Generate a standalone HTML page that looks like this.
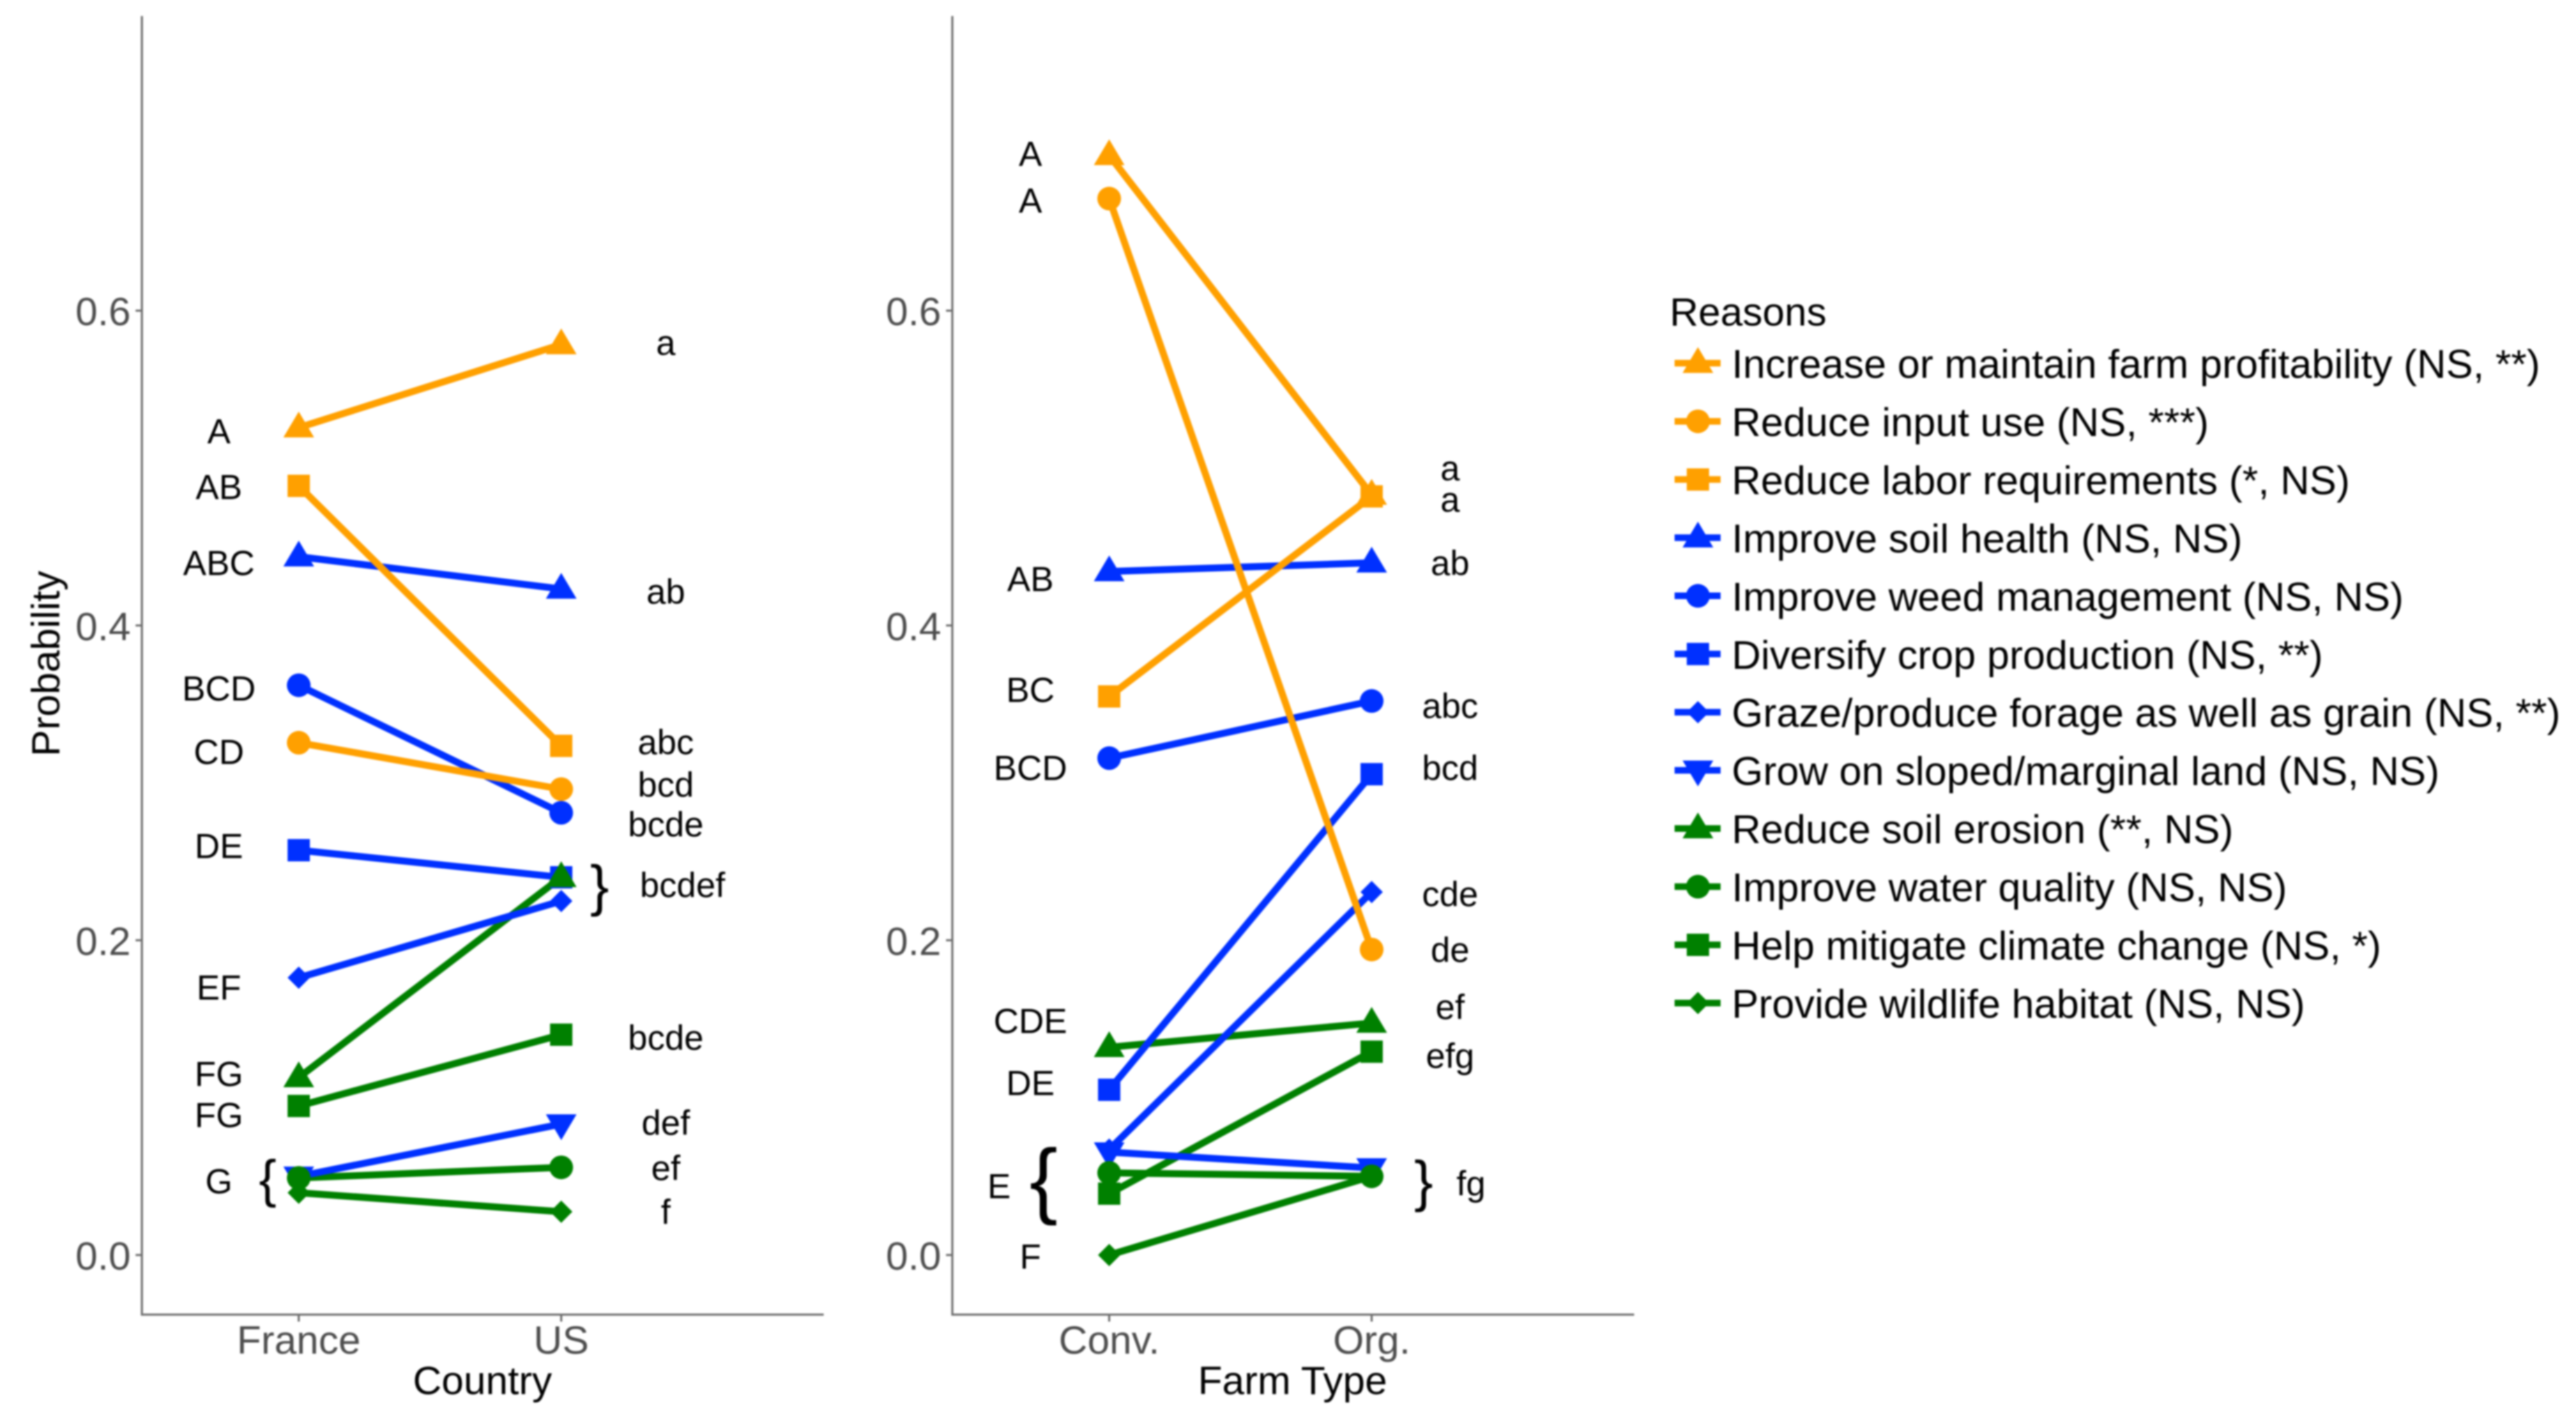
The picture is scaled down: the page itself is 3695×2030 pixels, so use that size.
<!DOCTYPE html>
<html lang="en">
<head>
<meta charset="utf-8">
<title>Probability of reasons by country and farm type</title>
<style>
html,body{margin:0;padding:0;background:#fff;width:3695px;height:2030px;overflow:hidden}
svg{display:block;filter:blur(1.2px)}
text{font-family:"Liberation Sans",Arial,sans-serif}
.sig{font-size:50px;fill:#000;text-anchor:middle;transform:translateY(2px)}
.brace{fill:#000;text-anchor:middle}
</style>
</head>
<body>
<svg id="chart" xmlns="http://www.w3.org/2000/svg" width="3695" height="2030" viewBox="0 0 3695 2030">
<rect x="0" y="0" width="3695" height="2030" fill="#fff"/>
<g id="panel-country"></g>
<g id="panel-farm"></g>
<g id="legend"></g>

<g>
<text class="sig" x="314" y="634">A</text>
<text class="sig" x="314" y="714">AB</text>
<text class="sig" x="314" y="823">ABC</text>
<text class="sig" x="314" y="1003">BCD</text>
<text class="sig" x="314" y="1094">CD</text>
<text class="sig" x="314" y="1229">DE</text>
<text class="sig" x="314" y="1432">EF</text>
<text class="sig" x="314" y="1556">FG</text>
<text class="sig" x="314" y="1615">FG</text>
<text class="sig" x="314" y="1710">G</text>
<text class="brace" x="384" y="1717" font-size="75">{</text>
<text class="sig" x="955" y="507">a</text>
<text class="sig" x="955" y="864">ab</text>
<text class="sig" x="955" y="1080">abc</text>
<text class="sig" x="955" y="1141">bcd</text>
<text class="sig" x="955" y="1198">bcde</text>
<text class="brace" x="860" y="1298" font-size="81">}</text>
<text class="sig" x="979" y="1285">bcdef</text>
<text class="sig" x="955" y="1504">bcde</text>
<text class="sig" x="955" y="1626">def</text>
<text class="sig" x="955" y="1691">ef</text>
<text class="sig" x="955" y="1754">f</text>
</g>

<g>
<text class="sig" x="1478" y="236">A</text>
<text class="sig" x="1478" y="303">A</text>
<text class="sig" x="1478" y="846">AB</text>
<text class="sig" x="1478" y="1005">BC</text>
<text class="sig" x="1478" y="1117">BCD</text>
<text class="sig" x="1478" y="1480">CDE</text>
<text class="sig" x="1478" y="1569">DE</text>
<text class="sig" x="1433" y="1717">E</text>
<text class="brace" x="1497" y="1733" font-size="121">{</text>
<text class="sig" x="1478" y="1818">F</text>
<text class="sig" x="2080" y="687">a</text>
<text class="sig" x="2080" y="732">a</text>
<text class="sig" x="2080" y="823">ab</text>
<text class="sig" x="2080" y="1028">abc</text>
<text class="sig" x="2080" y="1117">bcd</text>
<text class="sig" x="2080" y="1298">cde</text>
<text class="sig" x="2080" y="1378">de</text>
<text class="sig" x="2080" y="1460">ef</text>
<text class="sig" x="2080" y="1530">efg</text>
<text class="brace" x="2042" y="1722" font-size="81">}</text>
<text class="sig" x="2110" y="1713">fg</text>
</g>
</svg>

<script>
// ---- data ----
const reasons = [
  "Increase or maintain farm profitability (NS, **)",
  "Reduce input use (NS, ***)",
  "Reduce labor requirements (*, NS)",
  "Improve soil health (NS, NS)",
  "Improve weed management (NS, NS)",
  "Diversify crop production (NS, **)",
  "Graze/produce forage as well as grain (NS, **)",
  "Grow on sloped/marginal land (NS, NS)",
  "Reduce soil erosion (**, NS)",
  "Improve water quality (NS, NS)",
  "Help mitigate climate change (NS, *)",
  "Provide wildlife habitat (NS, NS)"
];
const reasonGroups = ["orange","orange","orange","blue","blue","blue","blue","blue","green","green","green","green"];
const reasonShapes = ["triangle","circle","square","triangle","circle","square","diamond","down","triangle","circle","square","diamond"];

const countryCategories = ["France","US"];
const farmCategories = ["Conv.","Org."];

const franceValues = [0.5257,0.3255,0.4887,0.4437,0.3620,0.2572,0.1762,0.0500,0.1128,0.0490,0.0947,0.0396];
const usValues     = [0.5785,0.2960,0.3235,0.4232,0.2810,0.2400,0.2249,0.0832,0.2400,0.0557,0.1400,0.0275];
const convValues   = [0.6987,0.6712,0.3549,0.4343,0.3157,0.1050,0.0670,0.0654,0.1320,0.0522,0.0390,0.0000];
const orgValues    = [0.4829,0.1941,0.4820,0.4398,0.3520,0.3055,0.2306,0.0553,0.1474,0.0500,0.1292,0.0500];

const yTickValues = [0,0.2,0.4,0.6];
const yTickLabels = ["0.0","0.2","0.4","0.6"];

// ---- layout ----
const SVGNS = "http://www.w3.org/2000/svg";
const palette = {orange:"#FFA000", blue:"#0030FF", green:"#008000"};
const axisColor = "#6E6E6E";
const tickTextColor = "#4D4D4D";
const plotTop = 23, plotBottom = 1886;

function yScale(v){ return 1800.5 - v * 2258; }
function xScale(originX, i){ return originX + 225 + i * 376.5; }

function make(tag, attrs, parent){
  const n = document.createElementNS(SVGNS, tag);
  for (const k in attrs) n.setAttribute(k, attrs[k]);
  parent.appendChild(n);
  return n;
}

function drawMarker(parent, shape, cx, cy, color){
  if (shape === "circle") return make("circle",{cx:cx,cy:cy,r:17,fill:color},parent);
  if (shape === "square") return make("rect",{x:cx-16,y:cy-16,width:32,height:32,fill:color},parent);
  if (shape === "diamond") return make("polygon",{points:[[cx,cy-16],[cx+16,cy],[cx,cy+16],[cx-16,cy]].join(" "),fill:color},parent);
  if (shape === "triangle") return make("polygon",{points:[[cx,cy-23],[cx+22,cy+14],[cx-22,cy+14]].join(" "),fill:color},parent);
  return make("polygon",{points:[[cx,cy+23],[cx+22,cy-14],[cx-22,cy-14]].join(" "),fill:color},parent);
}

function drawPanel(groupId, originX, categories, seriesA, seriesB, xTitle, xTitleCenter){
  const g = document.getElementById(groupId);

  reasons.map((_, i) => i).reverse().forEach(i => {
    const line = make("line",{
      x1:xScale(originX,0), y1:yScale(seriesA[i]),
      x2:xScale(originX,1), y2:yScale(seriesB[i]),
      stroke:palette[reasonGroups[i]], "stroke-width":10
    },g);
    
    
  });

  reasons.forEach((_, i) => {
    const color = palette[reasonGroups[i]];
    [seriesA, seriesB].forEach((series, c) => {
      const m = drawMarker(g, reasonShapes[i], xScale(originX,c), yScale(series[i]), color);
      
      
    });
  });

  const yAxis = make("line",{x1:originX,y1:plotTop,x2:originX,y2:plotBottom+1.5,stroke:axisColor,"stroke-width":3},g);
  
  

  const xAxis = make("line",{x1:originX-1.5,y1:plotBottom,x2:originX+978,y2:plotBottom,stroke:axisColor,"stroke-width":3},g);
  
  

  yTickValues.forEach((v, i) => {
    const tick = make("line",{x1:originX-9,y1:yScale(v),x2:originX,y2:yScale(v),stroke:axisColor,"stroke-width":3},g);
    
    
    const label = make("text",{x:originX-16,y:yScale(v)+21,"text-anchor":"end","font-size":57,fill:tickTextColor},g);
    label.textContent = yTickLabels[i];
    
    
  });

  categories.forEach((name, i) => {
    const x = xScale(originX,i);
    const tick = make("line",{x1:x,y1:plotBottom,x2:x,y2:plotBottom+10,stroke:axisColor,"stroke-width":3},g);
    
    
    const label = make("text",{x:x,y:1942,"text-anchor":"middle","font-size":57,fill:tickTextColor},g);
    label.textContent = name;
    
    
  });

  const title = make("text",{x:xTitleCenter,y:2000,"text-anchor":"middle","font-size":57,fill:"#000"},g);
  title.textContent = xTitle;
  
  
}

drawPanel("panel-country", 203.5, countryCategories, franceValues, usValues, "Country", 692);
drawPanel("panel-farm", 1366, farmCategories, convValues, orgValues, "Farm Type", 1854);

const yTitle = make("text",{transform:"translate(85,952) rotate(-90)","text-anchor":"middle","font-size":57,fill:"#000"},document.getElementById("panel-country"));
yTitle.textContent = "Probability";



// ---- legend ----
const legend = document.getElementById("legend");
const legendTitle = make("text",{x:2395,y:467,"font-size":57,fill:"#000"},legend);
legendTitle.textContent = "Reasons";



reasons.forEach((name, i) => {
  const rowY = 521 + i * 83.45;
  const color = palette[reasonGroups[i]];
  const entry = make("g",{},legend);
  
  
  const key = make("line",{x1:2402,y1:rowY,x2:2468,y2:rowY,stroke:color,"stroke-width":9.5},entry);
  
  
  const marker = drawMarker(entry, reasonShapes[i], 2435.5, rowY, color);
  
  
  const label = make("text",{x:2484,y:rowY+21,"font-size":57.8,fill:"#000"},entry);
  label.textContent = name;
  
  
});
</script>
</body>
</html>
